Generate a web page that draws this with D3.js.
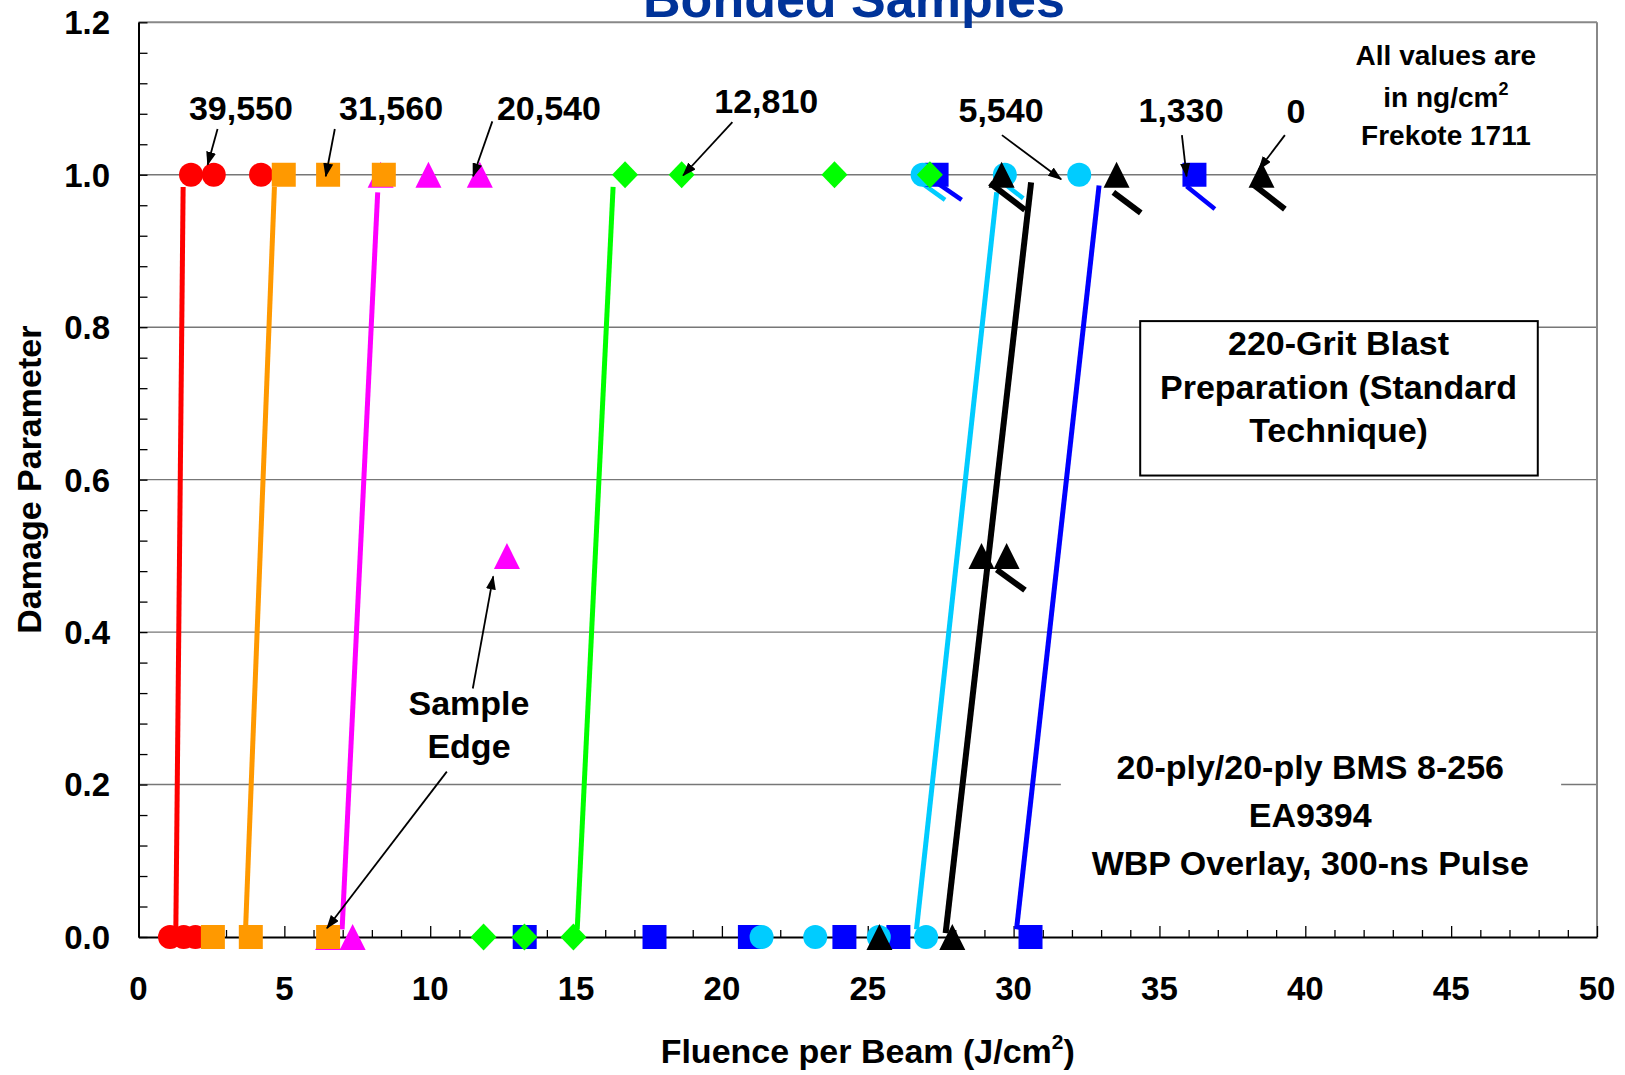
<!DOCTYPE html>
<html><head><meta charset="utf-8">
<script src="https://cdn.jsdelivr.net/npm/d3@7"></script>
<style>
html,body{margin:0;padding:0;background:#fff;}
svg text{font-family:"Liberation Sans",Arial,Helvetica,sans-serif;font-weight:bold;}
</style></head><body>
<svg id="chart" width="1625" height="1075"></svg>
<script>
// ---------------- DATA ----------------
const xTickValues = [0,5,10,15,20,25,30,35,40,45,50];
const yTickValues = [0,0.2,0.4,0.6,0.8,1.0,1.2];
const yTickLabels = ["0.0","0.2","0.4","0.6","0.8","1.0","1.2"];
const seriesNames = ["39,550","31,560","20,540","12,810","5,540","1,330","0"];

// marker points (fluence, damage parameter) per Frekote level
const c39550X = [1.80, 2.58, 4.20, 1.08, 1.55, 1.95];
const c39550Y = [1, 1, 1, 0, 0, 0];
const c31560X = [4.98, 6.50, 8.41, 2.55, 3.85, 6.50];
const c31560Y = [1, 1, 1, 0, 0, 0];
const c20540X = [8.30, 9.94, 11.70, 12.63, 6.50, 7.34];
const c20540Y = [1, 1, 1, 0.5, 0, 0];
const c12810X = [16.68, 18.62, 23.86, 27.13, 11.83, 13.23, 14.91];
const c12810Y = [1, 1, 1, 1, 0, 0, 0];
const c5540X  = [26.88, 29.70, 32.25, 21.36, 23.20, 25.38, 27.00];
const c5540Y  = [1, 1, 1, 0, 0, 0, 0];
const c1330X  = [27.36, 36.20, 13.24, 17.69, 20.96, 24.20, 26.05, 30.58];
const c1330Y  = [1, 1, 0, 0, 0, 0, 0, 0];
const c0X     = [29.59, 33.53, 38.50, 28.90, 29.76, 25.40, 27.90];
const c0Y     = [1, 1, 1, 0.5, 0.5, 0, 0];

// threshold lines (x at bottom, x at top / y bottom, y top)
const t39550X = [1.28, 1.53];  const t39550Y = [0.01, 0.984];
const t31560X = [3.67, 4.66];  const t31560Y = [0.01, 0.984];
const t20540X = [6.98, 8.20];  const t20540Y = [0.01, 0.977];
const t12810X = [15.04, 16.27]; const t12810Y = [0.01, 0.984];
const t5540X  = [26.67, 29.42]; const t5540Y  = [0.01, 0.977];
const t1330X  = [30.10, 32.93]; const t1330Y  = [0.01, 0.986];
const t0X     = [27.67, 30.60]; const t0Y     = [0.005, 0.99];

// short tail segments next to markers [x1, y1, x2, y2]
const tails5540 = [[26.85,0.989,27.65,0.967],[29.42,0.996,30.33,0.969]];
const tails1330 = [[27.31,0.991,28.22,0.967],[35.93,0.985,36.90,0.955]];
const tails0    = [[29.19,0.989,30.39,0.954],[33.42,0.977,34.36,0.950],[38.22,0.987,39.30,0.955],[29.42,0.482,30.39,0.455]];

// ---------------- LAYOUT ----------------
const W = 1625, H = 1075;
const plot = {left:138.5, right:1597, top:22.3, bottom:937};
const x = d3.scaleLinear().domain([0,50]).range([plot.left, plot.right]);
const y = d3.scaleLinear().domain([0,1.2]).range([plot.bottom, plot.top]);

const svg = d3.select("#chart");
svg.append("rect").attr("width",W).attr("height",H).attr("fill","#fff");

const defs = svg.append("defs");
defs.append("marker").attr("id","ah").attr("viewBox","0 0 14 10")
  .attr("refX",13).attr("refY",5).attr("markerWidth",14).attr("markerHeight",10)
  .attr("markerUnits","userSpaceOnUse").attr("orient","auto")
  .append("path").attr("d","M0,0 L14,5 L0,10 Z").attr("fill","#000");

// gridlines
svg.append("g").selectAll("line").data([0.2,0.4,0.6,0.8,1.0]).join("line")
  .attr("x1",plot.left).attr("x2",plot.right)
  .attr("y1",d=>y(d)).attr("y2",d=>y(d))
  .attr("stroke","#777").attr("stroke-width",1.4);

// text boxes (white background)
const box1 = {x0:34.34, x1:47.97, y0:0.808, y1:0.6054};
svg.append("rect").attr("x",x(box1.x0)).attr("y",y(box1.y0))
  .attr("width",x(box1.x1)-x(box1.x0)).attr("height",y(box1.y1)-y(box1.y0))
  .attr("fill","#fff").attr("stroke","#000").attr("stroke-width",2);
const box2 = {x0:31.62, x1:48.77, y0:0.2717, y1:0.0486};
svg.append("rect").attr("x",x(box2.x0)).attr("y",y(box2.y0))
  .attr("width",x(box2.x1)-x(box2.x0)).attr("height",y(box2.y1)-y(box2.y0))
  .attr("fill","#fff");

// plot border (top/right gray)
svg.append("line").attr("x1",plot.left).attr("x2",plot.right).attr("y1",plot.top).attr("y2",plot.top)
  .attr("stroke","#888").attr("stroke-width",2);
svg.append("line").attr("x1",plot.right).attr("x2",plot.right).attr("y1",plot.top).attr("y2",plot.bottom)
  .attr("stroke","#888").attr("stroke-width",2);

// axes
const xAxisG = svg.append("g").attr("transform",`translate(0,${plot.bottom})`);
xAxisG.call(d3.axisBottom(x).tickValues(d3.range(0,51,1)).tickSize(0).tickFormat(""));
xAxisG.select(".domain").attr("stroke","#000").attr("stroke-width",2);
xAxisG.selectAll(".tick line").remove();
xAxisG.selectAll(".tick").append("line")
  .attr("y1",0).attr("y2",d=>d%5===0?-11:-7).attr("stroke","#000").attr("stroke-width",1.3);
svg.append("g").selectAll("text").data(xTickValues).join("text")
  .attr("x",d=>x(d)).attr("y",1000).attr("text-anchor","middle")
  .attr("font-size",33).attr("fill","#000").text(d=>d);

const yAxisG = svg.append("g").attr("transform",`translate(${plot.left},0)`);
yAxisG.call(d3.axisLeft(y).tickValues(d3.range(0,1.2001,0.04)).tickSize(0).tickFormat(""));
yAxisG.select(".domain").attr("stroke","#000").attr("stroke-width",2);
yAxisG.selectAll(".tick line").remove();
yAxisG.selectAll(".tick").append("line")
  .attr("x1",0).attr("x2",9).attr("stroke","#000").attr("stroke-width",1.3);
svg.append("g").selectAll("text").data(yTickValues).join("text")
  .attr("x",110).attr("y",d=>y(d)).attr("dy","0.36em").attr("text-anchor","end")
  .attr("font-size",33).attr("fill","#000").text((d,i)=>yTickLabels[i]);

// axis titles
svg.append("text").attr("transform",`translate(41,${(plot.top+plot.bottom)/2}) rotate(-90)`)
  .attr("text-anchor","middle").attr("font-size",34).attr("fill","#000").text("Damage Parameter");
const xt = svg.append("text").attr("x",(plot.left+plot.right)/2).attr("y",1063)
  .attr("text-anchor","middle").attr("font-size",34).attr("fill","#000");
xt.append("tspan").text("Fluence per Beam (J/cm");
xt.append("tspan").attr("font-size",21).attr("dy",-14).text("2");
xt.append("tspan").attr("dy",14).text(")");

// title (cut off at top)
svg.append("text").attr("x",854).attr("y",17).attr("text-anchor","middle")
  .attr("font-size",52).attr("fill","#003399").text("Bonded Samples");

// ---------------- SERIES ----------------
const series = [
  {name:"20,540", xs:c20540X, ys:c20540Y, tx:t20540X, ty:t20540Y, color:"#FF00FF", shape:"triangle", lw:5, tails:[]},
  {name:"39,550", xs:c39550X, ys:c39550Y, tx:t39550X, ty:t39550Y, color:"#FF0000", shape:"circle", lw:5, tails:[]},
  {name:"31,560", xs:c31560X, ys:c31560Y, tx:t31560X, ty:t31560Y, color:"#FF9900", shape:"square", lw:5, tails:[]},
  {name:"1,330",  xs:c1330X,  ys:c1330Y,  tx:t1330X,  ty:t1330Y,  color:"#0000FF", shape:"square", lw:5, tails:tails1330},
  {name:"5,540",  xs:c5540X,  ys:c5540Y,  tx:t5540X,  ty:t5540Y,  color:"#00CCFF", shape:"circle", lw:5, tails:tails5540},
  {name:"0",      xs:c0X,     ys:c0Y,     tx:t0X,     ty:t0Y,     color:"#000000", shape:"triangle", lw:6, tails:tails0},
  {name:"12,810", xs:c12810X, ys:c12810Y, tx:t12810X, ty:t12810Y, color:"#00FF00", shape:"diamond", lw:5, tails:[]}
];

const lineGen = d3.line().x(d=>x(d[0])).y(d=>y(d[1]));
const gLines = svg.append("g");
series.forEach(s=>{
  gLines.append("path").datum(s.tx.map((v,i)=>[v,s.ty[i]]))
    .attr("d",lineGen).attr("fill","none").attr("stroke",s.color).attr("stroke-width",s.lw);
});
// tails: black first, then colored
const gTails = svg.append("g");
[series[5],series[3],series[4]].forEach(s=>{
  gTails.selectAll(null).data(s.tails).join("line")
    .attr("x1",d=>x(d[0])).attr("y1",d=>y(d[1])).attr("x2",d=>x(d[2])).attr("y2",d=>y(d[3]))
    .attr("stroke",s.color).attr("stroke-width",s.name==="0"?6:4.5);
});

const shapes = {
  circle:  "M-12,0 A12,12 0 1,0 12,0 A12,12 0 1,0 -12,0 Z",
  square:  "M-12,-12 L12,-12 L12,12 L-12,12 Z",
  triangle:"M0,-13 L13,13 L-13,13 Z",
  diamond: "M0,-13.5 L13,0 L0,13.5 L-13,0 Z"
};
const gMarks = svg.append("g");
series.forEach(s=>{
  gMarks.selectAll(null).data(s.xs.map((v,i)=>[v,s.ys[i]])).join("path")
    .attr("transform",d=>`translate(${x(d[0])},${y(d[1])})`)
    .attr("d",shapes[s.shape]).attr("fill",s.color);
});

// ---------------- ANNOTATIONS ----------------
const labelPos = [
  {t:"39,550", x:3.51,  y:1.072},
  {t:"31,560", x:8.66,  y:1.072},
  {t:"20,540", x:14.07, y:1.072},
  {t:"12,810", x:21.52, y:1.081},
  {t:"5,540",  x:29.57, y:1.069},
  {t:"1,330",  x:35.74, y:1.069},
  {t:"0",      x:39.68, y:1.068},
  {t:"Sample", x:11.33, y:0.291},
  {t:"Edge",   x:11.33, y:0.235}
];
svg.append("g").selectAll("text").data(labelPos).join("text")
  .attr("x",d=>x(d.x)).attr("y",d=>y(d.y)).attr("text-anchor","middle")
  .attr("font-size",34).attr("fill","#000").text(d=>d.t);

const arrows = [
  [2.71,1.060,2.37,1.013],
  [6.73,1.060,6.42,0.998],
  [12.13,1.070,11.47,0.998],
  [20.36,1.069,18.67,0.999],
  [29.60,1.052,31.63,0.994],
  [35.77,1.052,35.93,0.998],
  [39.30,1.052,38.41,1.007],
  [11.46,0.326,12.16,0.473],
  [10.57,0.217,6.46,0.0114]
];
svg.append("g").selectAll("line").data(arrows).join("line")
  .attr("x1",d=>x(d[0])).attr("y1",d=>y(d[1])).attr("x2",d=>x(d[2])).attr("y2",d=>y(d[3]))
  .attr("stroke","#000").attr("stroke-width",1.8).attr("marker-end","url(#ah)");

// note: units
const note = svg.append("g").attr("font-size",28);
note.append("text").attr("x",x(44.82)).attr("y",y(1.144)).attr("text-anchor","middle").attr("font-size",28).text("All values are");
const n2 = note.append("text").attr("x",x(44.82)).attr("y",y(1.089)).attr("text-anchor","middle").attr("font-size",28);
n2.append("tspan").text("in ng/cm");
n2.append("tspan").attr("font-size",18).attr("dy",-12).text("2");
note.append("text").attr("x",x(44.82)).attr("y",y(1.039)).attr("text-anchor","middle").attr("font-size",28).text("Frekote 1711");

// box texts
const boxLines1 = ["220-Grit Blast","Preparation (Standard","Technique)"];
const boxY1 = [0.7638, 0.706, 0.650];
svg.append("g").selectAll("text").data(boxLines1).join("text")
  .attr("x",x(41.14)).attr("y",(d,i)=>y(boxY1[i])).attr("text-anchor","middle")
  .attr("font-size",34).attr("fill","#000").text(d=>d);
const boxLines2 = ["20-ply/20-ply BMS 8-256","EA9394","WBP Overlay, 300-ns Pulse"];
const boxY2 = [0.2073, 0.1444, 0.0814];
svg.append("g").selectAll("text").data(boxLines2).join("text")
  .attr("x",x(40.17)).attr("y",(d,i)=>y(boxY2[i])).attr("text-anchor","middle")
  .attr("font-size",34).attr("fill","#000").text(d=>d);
</script>
</body></html>
